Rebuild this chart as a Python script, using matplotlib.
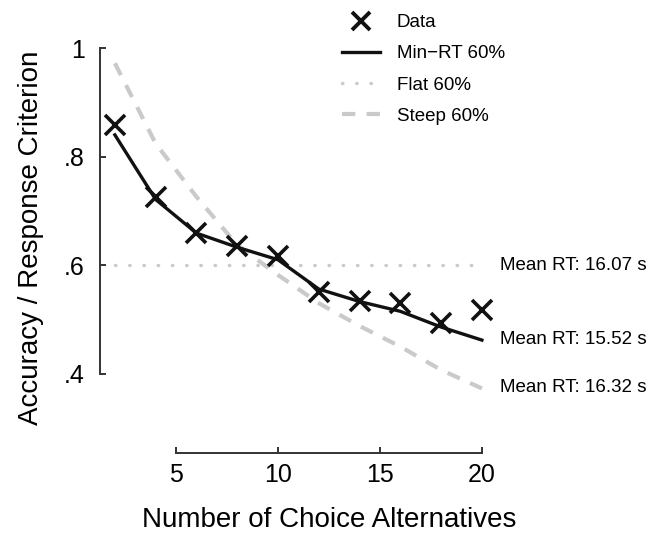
import matplotlib
matplotlib.use("Agg")
import matplotlib.pyplot as plt
from matplotlib.lines import Line2D

plt.rcParams['font.family'] = ['Liberation Sans', 'DejaVu Sans']

n_alt = [2, 4, 6, 8, 10, 12, 14, 16, 18, 20]
data_acc = [0.858, 0.726, 0.660, 0.636, 0.617, 0.551, 0.534, 0.531, 0.493, 0.517]
minrt = [0.840, 0.721, 0.659, 0.633, 0.610, 0.556, 0.533, 0.515, 0.486, 0.462]
flat = [0.6] * 10
steep = [0.972, 0.824, 0.726, 0.637, 0.582, 0.530, 0.488, 0.450, 0.407, 0.373]
rt_labels = ["Mean RT: 16.07 s", "Mean RT: 15.52 s", "Mean RT: 16.32 s"]
yticks = [0.4, 0.6, 0.8, 1.0]
yticklabels = [".4", ".6", ".8", "1"]
xticks = [5, 10, 15, 20]

W, H = 660, 536
fig = plt.figure(figsize=(W / 100, H / 100), dpi=100)
ax = fig.add_axes([100 / W, 83 / H, 388 / W, 410.4 / H])
ax.set_xlim(1.27, 20.3)
ax.set_ylim(0.254, 1.01)

gray = '#cacaca'
dotted = (0, (0.1, 4.0))
dashed = (0, (3.2, 2.7))
ax.plot(n_alt, flat, linestyle=dotted, dash_capstyle='round', color=gray, lw=2.5, clip_on=False)
ax.plot(n_alt, steep, linestyle=dashed, color=gray, lw=3, clip_on=False)
ax.plot(n_alt, minrt, color='#111111', lw=2.4, clip_on=False)
ax.plot(n_alt, data_acc, linestyle='none', marker='x', ms=14, mew=2.6, color='#111111', clip_on=False)

for sp in ['top', 'right']:
    ax.spines[sp].set_visible(False)
ax.spines['left'].set_bounds(0.4, 1.0)
ax.spines['bottom'].set_bounds(5, 20)
for sp in ['left', 'bottom']:
    ax.spines[sp].set_linewidth(1.4)
    ax.spines[sp].set_color('#333333')
ax.set_yticks(yticks)
ax.set_yticklabels(yticklabels)
ax.set_xticks(xticks)
ax.tick_params(direction='in', length=4, width=1.4, color='#333333', labelsize=18)
ax.tick_params(axis='y', pad=11)
ax.tick_params(axis='x', pad=7)

# axis labels
fig.text(329 / W, 1 - 527 / H, "Number of Choice Alternatives", ha='center', va='baseline', fontsize=20)
fig.text(31 / W, 1 - 238 / H, "Accuracy / Response Criterion", ha='center', va='center', fontsize=20, rotation=90)

# right-side labels
for lab, yv in zip(rt_labels, [265, 340, 387]):
    fig.text(500 / W, 1 - yv / H, lab, ha='left', va='center', fontsize=13.5)

handles = [
    Line2D([], [], linestyle='none', marker='x', ms=12.5, mew=2.8, color='#111111'),
    Line2D([], [], color='#111111', lw=2.4),
    Line2D([], [], color=gray, lw=2.5, linestyle=dotted, dash_capstyle='round'),
    Line2D([], [], color=gray, lw=3, linestyle=dashed),
]
labels = ["Data", "Min\u2212RT 60%", "Flat 60%", "Steep 60%"]
fig.legend(handles, labels, loc='upper left', bbox_to_anchor=(342 / W, 1 - 14 / H),
           frameon=False, fontsize=13.5, handlelength=2.03, handletextpad=0.9,
           labelspacing=0.75, borderpad=0, borderaxespad=0)

fig.savefig("out.png", dpi=100)
